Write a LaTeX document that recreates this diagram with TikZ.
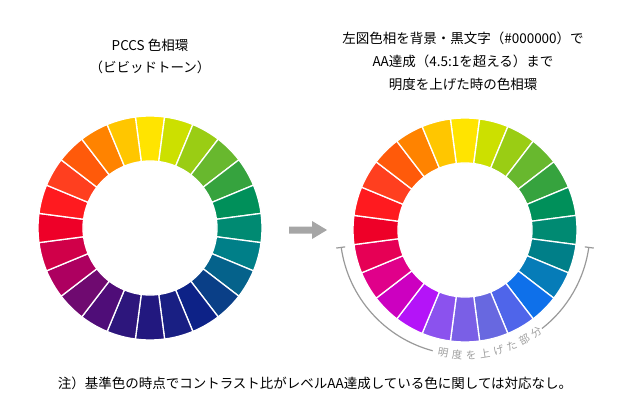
\documentclass[tikz,border=0pt]{standalone}
\usepackage{fontspec}
\setmainfont{Noto Sans CJK JP}
\newcommand\drawring[3]{%
  \begin{scope}[shift={(#1,#2)}]
  \foreach \c [count=\i] in {#3} {
    \definecolor{seg}{HTML}{\c}
    \pgfmathsetmacro\aa{90-15*(\i-1)-7.5}
    \pgfmathsetmacro\ab{90-15*(\i-1)+7.5}
    \fill[seg,draw=white,line width=1.3pt] (\aa:112) arc (\aa:\ab:112) -- (\ab:67) arc (\ab:\aa:67) -- cycle;
  }
  \end{scope}}
\begin{document}
\begin{tikzpicture}[x=1pt,y=1pt,
  ttl/.style={font=\fontsize{13.5}{23}\selectfont,align=center,inner sep=0},
  arclbl/.style={font=\fontsize{10.5}{12}\selectfont,text=black!38,inner sep=0}]
\useasboundingbox (0,0) rectangle (620,416);
\drawring{150}{188}{FFE400,CCE000,9ACD14,68B82E,36A33E,00905A,008A72,007F88,05628B,0A3F87,0D2287,191F83,22187F,2D167C,4F0D78,6F0A70,AD0060,D00049,EE0028,FF1A1F,FF3F1F,FF5A0A,FF8300,FFC600}
\drawring{465}{186}{FFE400,CCE000,9ACD14,68B82E,36A33E,00905A,008A72,007F88,067CB8,0E70EA,4F65EA,6868E0,7A5FE6,8B52EE,B414F8,CC00C0,E0008A,E60055,EE0028,FF1A1F,FF3F1F,FF5A0A,FF8300,FFC600}
\node[ttl] (t1) at (150,371) {PCCS 色相環};
\node[ttl] (t2) at (150,349) {（ビビッドトーン）};
\node[ttl] (t3) at (463,355) {左図色相を背景・黒文字（\#000000）で\\AA達成（4.5:1を超える）まで\\明度を上げた時の色相環};
\node[ttl] (t4) at (315,33) {注）基準色の時点でコントラスト比がレベルAA達成している色に関しては対応なし。};
% arrow
\fill[black!35] (289,189.5) -- (312,189.5) -- (312,195) -- (327,186) -- (312,177) -- (312,182.5) -- (289,182.5) -- cycle;
% bracket arc
\begin{scope}[shift={(465,186)}]
\draw[black!40,line width=1.2pt] (188:125) arc (188:255:125);
\draw[black!40,line width=1.2pt] (308:125) arc (308:352:125);
\draw[black!40,line width=1.2pt] (188:121) -- (188:130);
\draw[black!40,line width=1.2pt] (352:121) -- (352:130);
\foreach \ch [count=\k] in {明,度,を,上,げ,た,部,分}{
  \pgfmathsetmacro\ang{260+6.4*(\k-1)}
  \node[arclbl,rotate=\ang+90] at (\ang:125) {\ch};
}
\end{scope}
\end{tikzpicture}
\end{document}
